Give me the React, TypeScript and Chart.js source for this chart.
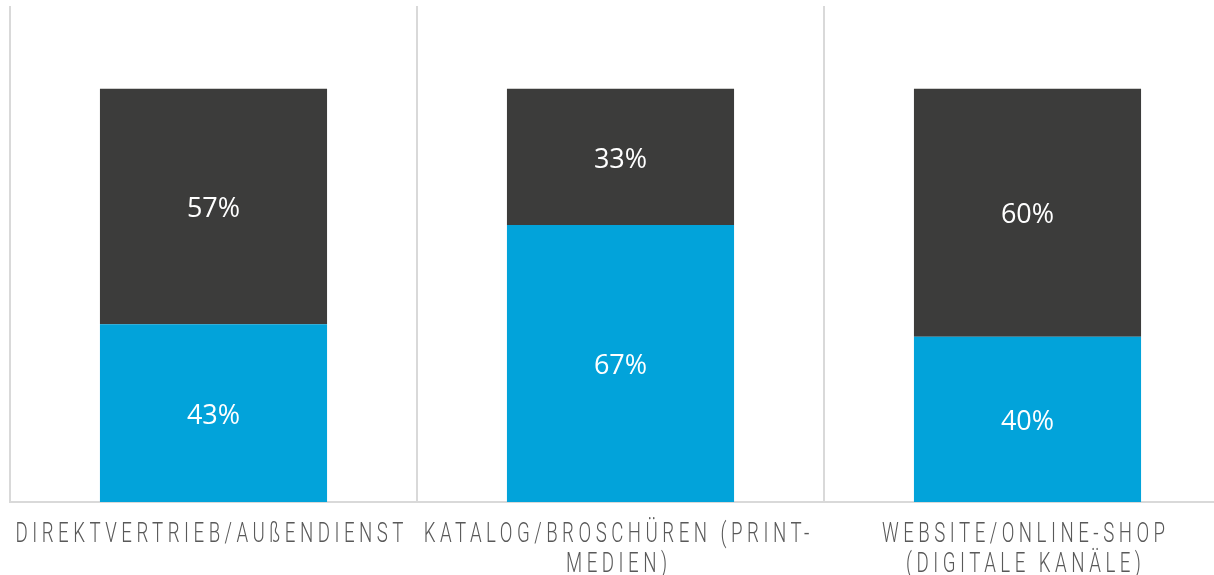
import React, { useEffect, useRef } from "react";
import { Chart, registerables } from "chart.js";

Chart.register(...registerables);

const categories = ["Direktvertrieb/Außendienst", "Katalog/Broschüren (Print-Medien)", "Website/Online-Shop (Digitale Kanäle)"];
const labelLines = [
  ["DIREKTVERTRIEB/AUßENDIENST"],
  ["KATALOG/BROSCHÜREN (PRINT-", "MEDIEN)"],
  ["WEBSITE/ONLINE-SHOP", "(DIGITALE KANÄLE)"],
];
const seriesBlue = [43, 67, 40];
const seriesDark = [57, 33, 60];
const yMax = 120;

const CANVAS_W = 1240;
const CANVAS_H = 575;

export default function App() {
  const ref = useRef<HTMLCanvasElement | null>(null);

  useEffect(() => {
    const canvas = ref.current;
    if (!canvas) return;

    const valueLabels = {
      id: "valueLabels",
      afterDatasetsDraw(chart: any) {
        const ctx = chart.ctx;
        ctx.save();
        ctx.fillStyle = "#ffffff";
        ctx.font = "27px 'Open Sans'";
        ctx.textAlign = "center";
        ctx.textBaseline = "middle";
        chart.data.datasets.forEach((ds: any, i: number) => {
          const meta = chart.getDatasetMeta(i);
          meta.data.forEach((el: any, j: number) => {
            const y = (el.y + el.base) / 2 + 3;
            ctx.fillText(ds.data[j] + "%", el.x, y);
          });
        });
        ctx.restore();
      },
    };

    const catLabels = {
      id: "catLabels",
      afterDraw(chart: any) {
        const ctx = chart.ctx;
        const xs = chart.scales.x;
        ctx.save();
        ctx.fillStyle = "#595959";
        ctx.font = "300 27px Roboto";
        const sp = 6.5;
        (ctx as any).letterSpacing = sp + "px";
        const ref0 = labelLines[0][0];
        const w0 = ctx.measureText(ref0).width - sp;
        const sx = 388 / w0;
        ctx.textAlign = "left";
        ctx.textBaseline = "alphabetic";
        labelLines.forEach((lines, i) => {
          const cx = xs.getPixelForValue(i) - 4;
          lines.forEach((line, k) => {
            const w = (ctx.measureText(line).width - sp) * sx;
            ctx.save();
            ctx.translate(cx - w / 2, 542 + k * 30);
            ctx.scale(sx, 1);
            ctx.fillText(line, 0, 0);
            ctx.restore();
          });
        });
        ctx.restore();
      },
    };

    const chart = new Chart(canvas, {
      type: "bar",
      data: {
        labels: categories,
        datasets: [
          { label: "A", data: seriesBlue, backgroundColor: "#02A3DA", borderWidth: 0 },
          { label: "B", data: seriesDark, backgroundColor: "#3C3C3B", borderWidth: 0 },
        ],
      },
      options: {
        responsive: false,
        animation: false,
        devicePixelRatio: 1,
        layout: { padding: { left: 10, top: 6, right: CANVAS_W - 1231, bottom: 73 } },
        plugins: { legend: { display: false }, tooltip: { enabled: false } },
        datasets: { bar: { categoryPercentage: 1, barPercentage: 0.558 } },
        scales: {
          x: {
            stacked: true,
            offset: true,
            grid: { offset: true, color: "#D9D9D9", lineWidth: 2, drawTicks: false },
            border: { display: true, color: "#D9D9D9", width: 2 },
            ticks: { display: false },
          },
          y: {
            stacked: true,
            display: false,
            min: 0,
            max: yMax,
          },
        },
      },
      plugins: [valueLabels, catLabels],
    });

    return () => chart.destroy();
  }, []);

  return (
    <div style={{ position: "fixed", left: 0, top: 0, width: 1214, height: 575, overflow: "hidden", background: "#fff" }}>
      <canvas ref={ref} width={CANVAS_W} height={CANVAS_H} style={{ width: CANVAS_W, height: CANVAS_H, display: "block" }} />
    </div>
  );
}
